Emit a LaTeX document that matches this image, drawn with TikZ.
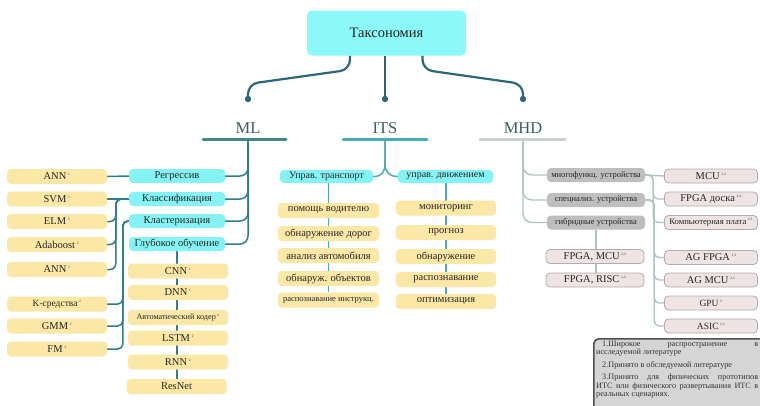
\documentclass[tikz,border=0pt]{standalone}
\usepackage{fontspec}
\setmainfont{Liberation Serif}
\usetikzlibrary{calc}
\pgfdeclarelayer{bglayer}
\pgfdeclarelayer{connlayer}
\pgfsetlayers{bglayer,connlayer,main}
\definecolor{cyanfill}{HTML}{85F3F3}
\definecolor{titlefill}{HTML}{8DF8F8}
\definecolor{yel}{HTML}{FBE7A6}
\definecolor{grayn}{HTML}{BEBEBE}
\definecolor{pinkn}{HTML}{EEE4E4}
\definecolor{pinkb}{HTML}{B3AAAA}
\definecolor{tconn}{HTML}{2C6878}
\definecolor{mlcol}{HTML}{2F7E88}
\definecolor{itscol}{HTML}{4BAAB4}
\definecolor{mhdcol}{HTML}{ADC6C3}
\definecolor{notefill}{HTML}{D5D5D5}
\definecolor{noteb}{HTML}{4F4F4F}
\definecolor{labcol}{HTML}{3E5D60}
\definecolor{ulml}{HTML}{3B8A86}
\definecolor{ulits}{HTML}{47AEB6}
\definecolor{ulmhd}{HTML}{C8CFCE}
\newcommand\supnum[1]{\,\textsuperscript{\fontsize{3.5}{4}\selectfont #1}}
\begin{document}
\begin{tikzpicture}[x=1pt,y=-1pt,
  base/.style={rectangle, rounded corners=4pt, inner sep=0pt, minimum height=14pt,
    text=black!85, font=\fontsize{10.5}{12}\selectfont},
  titlebox/.style={base, fill=titlefill, minimum width=159pt, minimum height=45pt,
    rounded corners=5pt, font=\fontsize{14.5}{16}\selectfont},
  cyn/.style={base, fill=cyanfill, minimum width=96pt},
  yl/.style={base, fill=yel, minimum width=100pt, minimum height=15pt},
  its/.style={base, fill=yel, minimum width=101pt, minimum height=15pt, font=\fontsize{10.5}{12}\selectfont},
  gr/.style={base, fill=grayn, minimum width=98pt, font=\fontsize{8.5}{10}\selectfont},
  pk/.style={base, fill=pinkn, draw=pinkb, line width=0.8pt, minimum width=93pt},
  small/.style={font=\fontsize{8.2}{9}\selectfont},
  lab/.style={text=labcol, font=\fontsize{16.5}{18}\selectfont, inner sep=0pt},
  tc/.style={draw=tconn, line width=2.2pt, rounded corners=10pt},
  mlc/.style={draw=mlcol, line width=1.5pt, rounded corners=8pt},
  itc/.style={draw=itscol, line width=1.5pt},
  mhc/.style={draw=mhdcol, line width=1.4pt, rounded corners=9pt},
  uline/.style={line width=3pt, line cap=round}]
\begin{pgfonlayer}{bglayer}
\fill[white] (0,0) rectangle (760,405);
\end{pgfonlayer}
\useasboundingbox (0,0) rectangle (760,405);

% title
\node[titlebox] (tax) at (386.5,33) {Таксономия};

% category labels
\node[lab] (ml) at (248,128) {ML};
\node[lab] (its) at (385,128) {ITS};
\node[lab] (mhd) at (523,128) {MHD};
\draw[uline, draw=ulml] ($(ml)+(-45,11)$) -- ($(ml)+(38,11)$);
\draw[uline, draw=ulits] ($(its)+(-42,11)$) -- ($(its)+(42,11)$);
\draw[uline, draw=ulmhd] ($(mhd)+(-43,11)$) -- ($(mhd)+(42,11)$);
\coordinate (mldot) at (248,99);
\coordinate (itsdot) at (385,99);
\coordinate (mhddot) at (523,99);
\coordinate (mltop) at (248,141);
\coordinate (itstop) at (385,141);
\coordinate (mhdtop) at (523,141);

% ML nodes
\node[cyn] (reg) at (177,176) {Регрессив};
\node[cyn] (cls) at (177,199) {Классификация};
\node[cyn] (clu) at (177,221) {Кластеризация};
\node[cyn] (deep) at (177,244) {Глубокое обучение};
\node[yl] (ann1) at (57,176.5) {ANN\supnum{1}};
\node[yl] (svm) at (57,199) {SVM\supnum{1}};
\node[yl] (elm) at (57,221.5) {ELM\supnum{3}};
\node[yl] (ada) at (57,244.5) {Adaboost\supnum{2}};
\node[yl] (ann2) at (57,269.5) {ANN\supnum{2}};
\node[yl, font=\fontsize{9.5}{11}\selectfont] (km) at (57,304) {K-средства\supnum{2}};
\node[yl] (gmm) at (57,326) {GMM\supnum{2}};
\node[yl] (fm) at (57,349) {FM\supnum{3}};
\node[yl] (cnn) at (178,271) {CNN\supnum{1}};
\node[yl] (dnn) at (178,292.5) {DNN\supnum{1}};
\node[yl, small] (auto) at (178,317.5) {Автоматический кодер\supnum{2}};
\node[yl] (lstm) at (178,338) {LSTM\supnum{2}};
\node[yl] (rnn) at (178,362) {RNN\supnum{2}};
\node[yl] (resnet) at (176.5,386.5) {ResNet};

% ITS nodes
\node[cyn, minimum width=93pt, minimum height=13pt, font=\fontsize{10}{12}\selectfont] (utr) at (326.5,176.5) {Управ. транспорт};
\node[cyn, minimum width=95pt, minimum height=13pt, font=\fontsize{10}{12}\selectfont] (udv) at (445.5,176.5) {управ. движением};
\node[its] (pv) at (328.5,210.5) {помощь водителю};
\node[its] (od) at (328.5,233.5) {обнаружение дорог};
\node[its] (aa) at (328.5,255.5) {анализ автомобиля};
\node[its] (oo) at (328.5,278.5) {обнаруж. объектов};
\node[its, font=\fontsize{8.5}{10}\selectfont] (ri) at (328.5,300) {распознавание инструкц.};
\node[its, minimum width=100pt] (mon) at (446,208) {мониторинг};
\node[its, minimum width=100pt] (prog) at (446,232.5) {прогноз};
\node[its, minimum width=100pt] (obn) at (446,256.5) {обнаружение};
\node[its, minimum width=100pt] (rasp) at (446,279.5) {распознавание};
\node[its, minimum width=100pt] (opt) at (446,301.5) {оптимизация};

% MHD nodes
\node[gr] (mf) at (596,175) {многофункц. устройства};
\node[gr] (sp) at (596,200) {специализ. устройства};
\node[gr] (hy) at (596,222.5) {гибридные устройства};
\node[pk, minimum width=98pt] (hfm) at (595,256.5) {FPGA, MCU\supnum{2,3}};
\node[pk, minimum width=98pt] (hfr) at (595,280) {FPGA, RISC\supnum{2,3}};
\node[pk] (mcu) at (711,176) {MCU\supnum{2,3}};
\node[pk] (fpgad) at (711,199) {FPGA доска\supnum{3,4}};
\node[pk, font=\fontsize{8.7}{10}\selectfont] (kp) at (711,222.5) {Компьютерная плата\supnum{2,3}};
\node[pk] (agf) at (711,257.5) {AG FPGA\supnum{1,3}};
\node[pk] (agm) at (711,280) {AG MCU\supnum{2,3}};
\node[pk, font=\fontsize{9.5}{11}\selectfont] (gpu) at (711,303) {GPU\supnum{3}};
\node[pk, font=\fontsize{9.5}{11}\selectfont] (asic) at (711,326) {ASIC\supnum{2,3}};

% note
\node[draw=noteb, fill=notefill, line width=1.6pt, rounded corners=5pt, anchor=north west,
  minimum width=180pt, minimum height=80pt, inner sep=0pt] (notebox) at (593,338) {};
\node[anchor=north west, inner sep=0pt, align=left, text=black!80,
  font=\fontsize{8.2}{8.8}\selectfont] (notetext) at (596,340.5)
  {\makebox[162pt][s]{\hspace*{6pt}1.Широкое распространение в}\\
   исследуемой литературе\\[3.6pt]
   \hspace*{6pt}2.Принято в обследуемой литературе\\[3.2pt]
   \makebox[162pt][s]{\hspace*{6pt}3.Принято для физических прототипов}\\
   \makebox[162pt][s]{ИТС или физического развертывания ИТС в}\\
   реальных сценариях.};

% connectors
\begin{pgfonlayer}{connlayer}
\draw[tc] ([xshift=-36.5pt]tax.south) -- ++(0,14) -- ($(mldot)+(0,-15)$) -- (mldot);
\draw[tc] (tax.south -| itsdot) -- (itsdot);
\draw[tc] ([xshift=36pt]tax.south) -- ++(0,14) -- ($(mhddot)+(0,-15)$) -- (mhddot);
\fill[tconn] (mldot) circle (3.2pt) (itsdot) circle (3.2pt) (mhddot) circle (3.2pt);

\foreach \t in {reg,cls,clu,deep} \draw[mlc] (mltop) |- (\t.east);
\draw[mlc] (reg.west) -- (ann1.east);
\draw[mlc] (cls.west) -- (svm.east);
\foreach \t in {elm,ada,ann2} \draw[mlc, rounded corners=6pt] (cls.west) -- ([xshift=-13pt]cls.west) |- (\t.east);
\foreach \t in {km,gmm,fm} \draw[mlc, rounded corners=5pt] (clu.west) -- ([xshift=-6pt]clu.west) |- (\t.east);
\draw[mlc] (deep.south) -- (deep.south |- resnet.north);

\draw[itc] (itstop) -- ++(0,22) .. controls +(0,9) and +(9,0) .. (utr.east);
\draw[itc] (itstop) -- ++(0,22) .. controls +(0,9) and +(-9,0) .. (udv.west);
\draw[itc] (pv.north |- utr.south) -- (pv.north |- ri.north);
\draw[itc] (mon.north |- udv.south) -- (mon.north |- opt.north);

\foreach \t in {mf,sp,hy} \draw[mhc] (mhdtop) |- (\t.west);
\draw[mhc] (mf.east) -- (mcu.west);
\foreach \t in {fpgad,kp} \draw[mhc, rounded corners=5pt] (mf.east) -- ([xshift=8pt]mf.east) |- (\t.west);
\foreach \t in {agf,agm,gpu,asic} \draw[mhc, rounded corners=5pt] (sp.east) -- ([xshift=9pt]sp.east) |- (\t.west);
\draw[mhc] (hy.south) -- (hy.south |- hfr.north);
\end{pgfonlayer}
\end{tikzpicture}
\end{document}
